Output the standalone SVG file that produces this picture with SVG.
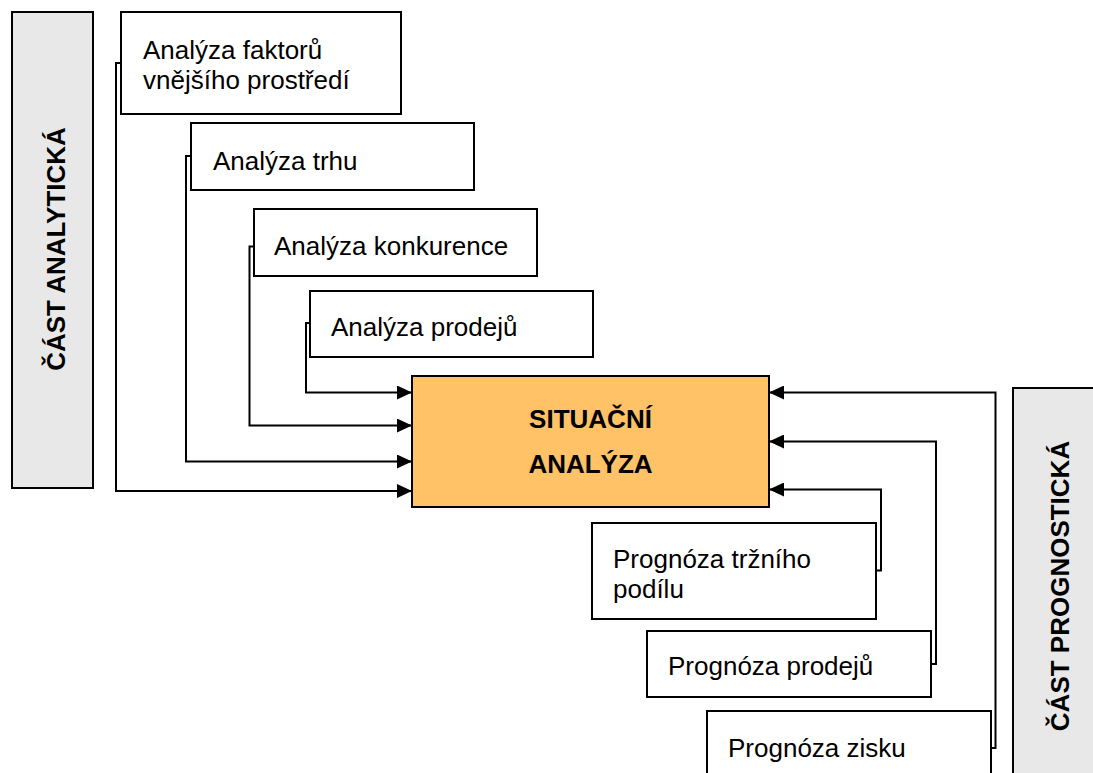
<svg xmlns="http://www.w3.org/2000/svg" width="1093" height="773" viewBox="0 0 1093 773">
<style>
.box{fill:#fff;stroke:#000;stroke-width:2}
.side{fill:#e8e8e8;stroke:#000;stroke-width:2}
.core{fill:#ffc266;stroke:#000;stroke-width:2}
.t{font-family:"Liberation Sans",Arial,sans-serif;font-size:26px;fill:#000}
.b{font-family:"Liberation Sans",Arial,sans-serif;font-size:26px;font-weight:bold;fill:#000}
.c{fill:none;stroke:#000;stroke-width:2;marker-end:url(#arr)}
</style>
<defs>
<marker id="arr" viewBox="0 0 15 14" refX="15" refY="7" markerWidth="15" markerHeight="14" markerUnits="userSpaceOnUse" orient="auto">
<path d="M0,0 L15,7 L0,14 Z" fill="#000"/>
</marker>
</defs>
<rect width="1093" height="773" fill="#fff"/>
<g id="label-analyticka">
<rect class="side" x="12" y="12" width="81" height="476"/>
<text class="b" transform="translate(65,249) rotate(-90)" text-anchor="middle">ČÁST ANALYTICKÁ</text>
</g>
<g id="label-prognosticka">
<rect class="side" x="1013" y="388" width="100" height="420"/>
<text class="b" transform="translate(1069,586) rotate(-90)" text-anchor="middle">ČÁST PROGNOSTICKÁ</text>
</g>
<g id="connectors">
<path class="c" d="M121,63 H116 V491 H412"/>
<path class="c" d="M191,156 H186 V461.5 H412"/>
<path class="c" d="M254,246.5 H249.5 V425.5 H412"/>
<path class="c" d="M310,323 H306 V392.5 H412"/>
<path class="c" d="M990.5,748 H995.5 V392.5 H769"/>
<path class="c" d="M930.5,664 H936 V441.5 H769"/>
<path class="c" d="M876,570.5 H881 V489.5 H769"/>
</g>
<g id="node-faktory">
<rect class="box" x="121" y="12" width="280" height="102"/>
<text class="t" x="143" y="59">Analýza faktorů</text>
<text class="t" x="143" y="89">vnějšího prostředí</text>
</g>
<g id="node-trh">
<rect class="box" x="191" y="123" width="283" height="67"/>
<text class="t" x="213" y="170">Analýza trhu</text>
</g>
<g id="node-konkurence">
<rect class="box" x="254" y="209" width="283" height="67"/>
<text class="t" x="274" y="255">Analýza konkurence</text>
</g>
<g id="node-prodeje">
<rect class="box" x="310" y="291" width="283" height="66"/>
<text class="t" x="331" y="336">Analýza prodejů</text>
</g>
<g id="node-situacni">
<rect class="core" x="412" y="376" width="357" height="131"/>
<text class="b" x="590.5" y="428" text-anchor="middle">SITUAČNÍ</text>
<text class="b" x="590.5" y="473" text-anchor="middle">ANALÝZA</text>
</g>
<g id="node-podil">
<rect class="box" x="592" y="523" width="284" height="96"/>
<text class="t" x="613" y="568">Prognóza tržního</text>
<text class="t" x="613" y="598">podílu</text>
</g>
<g id="node-prognoza-prodeje">
<rect class="box" x="647" y="631" width="284" height="66"/>
<text class="t" x="668" y="675">Prognóza prodejů</text>
</g>
<g id="node-zisk">
<rect class="box" x="707" y="711" width="284" height="90"/>
<text class="t" x="728" y="757">Prognóza zisku</text>
</g>
</svg>
